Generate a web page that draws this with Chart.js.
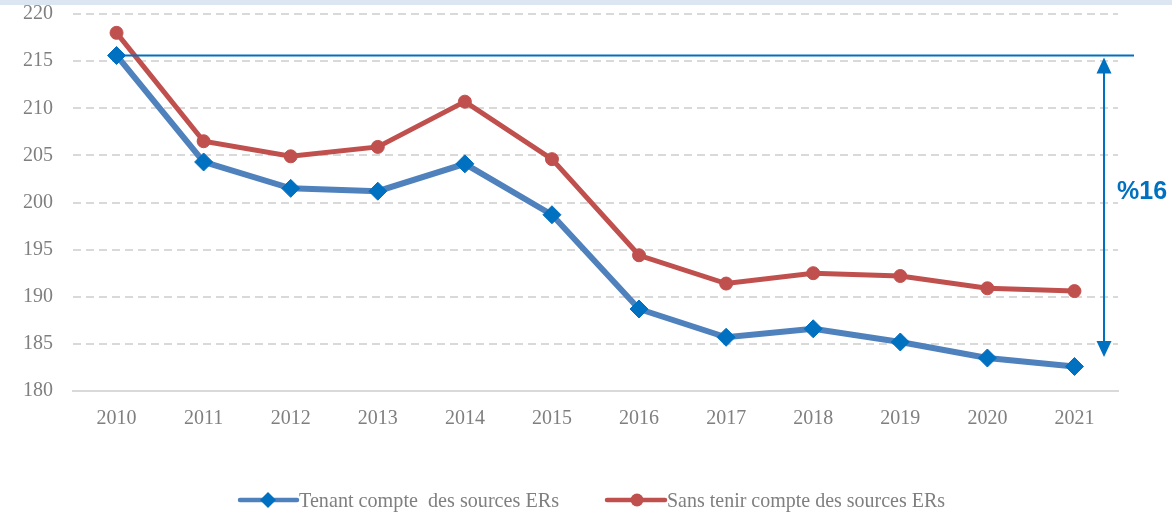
<!DOCTYPE html>
<html>
<head>
<meta charset="utf-8">
<script src="https://cdn.jsdelivr.net/npm/chart.js@4"></script>
<style>
  html, body { margin: 0; padding: 0; background: #fff; overflow: hidden; }
  .top-band { position: absolute; left: 0; top: 0; width: 1172px; height: 5px; background: #dce6f2; z-index: 2; }
  .chart-container { position: absolute; left: 0; top: -18px; width: 1172px; height: 532px; }
</style>
</head>
<body>
<div class="top-band"></div>
<div class="chart-container">
  <canvas id="emissionsChart"></canvas>
</div>
<script>
const years = ['2010', '2011', '2012', '2013', '2014', '2015', '2016', '2017', '2018', '2019', '2020', '2021'];
const withRenewables = [215.6, 204.3, 201.5, 201.2, 204.1, 198.7, 188.7, 185.7, 186.6, 185.2, 183.5, 182.6];
const withoutRenewables = [218.0, 206.5, 204.9, 205.9, 210.7, 204.6, 194.4, 191.4, 192.5, 192.2, 190.9, 190.6];
const seriesLabels = ['Tenant compte  des sources ERs', 'Sans tenir compte des sources ERs'];
const arrowRange = [215.6, 183.6];
const arrowText = '%16';

const serif = "'Liberation Serif', 'DejaVu Serif', serif";
const tickGray = '#7f7f7f';

// reference line + double arrow with the percentage
const arrowPlugin = {
    id: 'arrowPlugin',
    afterDatasetsDraw(chart) {
        const { ctx, chartArea, scales } = chart;
        const x0 = scales.x.getPixelForValue(0);
        const yTop = scales.y.getPixelForValue(arrowRange[0]);
        const yBot = scales.y.getPixelForValue(arrowRange[1]);
        const ax = chartArea.right - 14;
        ctx.save();
        ctx.strokeStyle = '#0070C0';
        ctx.fillStyle = '#0070C0';
        ctx.lineWidth = 2;
        ctx.beginPath();
        ctx.moveTo(x0, yTop);
        ctx.lineTo(chartArea.right + 16, yTop);
        ctx.stroke();

        ctx.beginPath();
        ctx.moveTo(ax, yTop + 14);
        ctx.lineTo(ax, yBot - 14);
        ctx.stroke();
        ctx.beginPath();
        ctx.moveTo(ax, yTop + 2);
        ctx.lineTo(ax - 7.5, yTop + 18);
        ctx.lineTo(ax + 7.5, yTop + 18);
        ctx.closePath();
        ctx.fill();
        ctx.beginPath();
        ctx.moveTo(ax, yBot);
        ctx.lineTo(ax - 7.5, yBot - 16);
        ctx.lineTo(ax + 7.5, yBot - 16);
        ctx.closePath();
        ctx.fill();

        ctx.font = "bold 25px 'Liberation Sans', Arial, sans-serif";
        ctx.textAlign = 'left';
        ctx.textBaseline = 'middle';
        ctx.fillText(arrowText, ax + 13, (yTop + yBot) / 2 - 14);
        ctx.restore();
    }
};

// legend drawn as line + marker like the original
const lineLegend = {
    id: 'lineLegend',
    afterDraw(chart) {
        const { ctx } = chart;
        const y = 518;
        const items = [{ x: 240, w: 57, tw: 260 }, { x: 607, w: 58, tw: 278 }];
        ctx.save();
        chart.data.datasets.forEach((ds, i) => {
            const it = items[i];
            ctx.strokeStyle = ds.borderColor;
            ctx.lineWidth = 4.5;
            ctx.lineCap = 'round';
            ctx.beginPath();
            ctx.moveTo(it.x, y);
            ctx.lineTo(it.x + it.w, y);
            ctx.stroke();
            ctx.fillStyle = ds.pointBackgroundColor;
            const cx = it.x + 28;
            if (ds.pointStyle === 'rectRot') {
                ctx.beginPath();
                ctx.moveTo(cx, y - 8);
                ctx.lineTo(cx + 8, y);
                ctx.lineTo(cx, y + 8);
                ctx.lineTo(cx - 8, y);
                ctx.closePath();
                ctx.fill();
            } else {
                ctx.beginPath();
                ctx.arc(cx + 2, y, 6.5, 0, Math.PI * 2);
                ctx.fill();
            }
            ctx.fillStyle = tickGray;
            ctx.font = '22px ' + serif;
            ctx.textAlign = 'left';
            ctx.textBaseline = 'middle';
            const tx = it.x + it.w + 2;
            const scale = it.tw / ctx.measureText(ds.label).width;
            ctx.save();
            ctx.translate(tx, y + 1);
            ctx.scale(scale, 1);
            ctx.fillText(ds.label, 0, 0);
            ctx.restore();
        });
        ctx.restore();
    }
};

const ctx = document.getElementById('emissionsChart').getContext('2d');
new Chart(ctx, {
    type: 'line',
    data: {
        labels: years,
        datasets: [
            {
                label: seriesLabels[0],
                data: withRenewables,
                borderColor: '#4F81BD',
                borderWidth: 6,
                pointStyle: 'rectRot',
                pointRadius: 9,
                pointHoverRadius: 9,
                pointBackgroundColor: '#0070C0',
                pointBorderColor: '#0070C0',
                pointBorderWidth: 1,
                tension: 0,
            },
            {
                label: seriesLabels[1],
                data: withoutRenewables,
                borderColor: '#C0504D',
                borderWidth: 5,
                pointStyle: 'circle',
                pointRadius: 6.5,
                pointHoverRadius: 6.5,
                pointBackgroundColor: '#C0504D',
                pointBorderColor: '#C0504D',
                pointBorderWidth: 1,
                tension: 0,
            },
        ],
    },
    options: {
        responsive: true,
        maintainAspectRatio: false,
        animation: false,
        layout: { autoPadding: false, padding: { left: 3, right: 54, top: -5, bottom: 67 } },
        plugins: {
            legend: { display: false },
            tooltip: { enabled: false },
        },
        scales: {
            x: {
                offset: true,
                grid: { display: false, drawTicks: false },
                border: { display: true, color: '#d9d9d9', width: 2 },
                ticks: {
                    color: tickGray,
                    padding: 16,
                    font: { family: serif, size: 20 },
                },
            },
            y: {
                min: 180,
                max: 220,
                grid: { color: '#d9d9d9', lineWidth: 2, drawTicks: false },
                border: { display: false, dash: [8, 5] },
                ticks: {
                    stepSize: 5,
                    color: tickGray,
                    padding: 20,
                    font: { family: serif, size: 20 },
                },
            },
        },
    },
    plugins: [arrowPlugin, lineLegend],
});
</script>
</body>
</html>
